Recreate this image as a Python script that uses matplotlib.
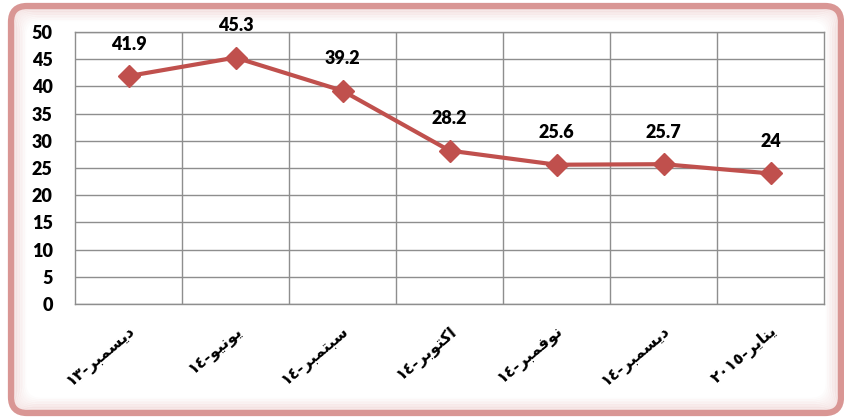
#!/usr/bin/env python3
"""Line chart with Arabic month labels inside a rounded pink frame."""

import matplotlib
matplotlib.use("Agg")
import matplotlib.pyplot as plt
from matplotlib.patches import FancyBboxPatch

# ── data ────────────────────────────────────────────────────────────────────
labels = ["ديسمبر-١٣", "يونيو-١٤", "سبتمبر-١٤", "اكتوبر-١٤",
          "نوفمبر-١٤", "ديسمبر-١٤", "يناير-٢٠١٥"]
values = [41.9, 45.3, 39.2, 28.2, 25.6, 25.7, 24]
value_text = ["41.9", "45.3", "39.2", "28.2", "25.6", "25.7", "24"]
y_ticks = [0, 5, 10, 15, 20, 25, 30, 35, 40, 45, 50]

# ── colours ─────────────────────────────────────────────────────────────────
C_LINE = "#c0504d"
C_GRID = "#8e8e8e"
C_FRAME = "#d99694"

# ── minimal Arabic shaping (matplotlib has no bidi / joining) ──────────────
# letter -> (isolated, final, initial, medial)
FORMS = {
    "ا": ("\ufe8d", "\ufe8e", "\ufe8d", "\ufe8e"),
    "ب": ("\ufe8f", "\ufe90", "\ufe91", "\ufe92"),
    "ت": ("\ufe95", "\ufe96", "\ufe97", "\ufe98"),
    "د": ("\ufea9", "\ufeaa", "\ufea9", "\ufeaa"),
    "ر": ("\ufead", "\ufeae", "\ufead", "\ufeae"),
    "س": ("\ufeb1", "\ufeb2", "\ufeb3", "\ufeb4"),
    "ف": ("\ufed1", "\ufed2", "\ufed3", "\ufed4"),
    "ك": ("\ufed9", "\ufeda", "\ufedb", "\ufedc"),
    "م": ("\ufee1", "\ufee2", "\ufee3", "\ufee4"),
    "ن": ("\ufee5", "\ufee6", "\ufee7", "\ufee8"),
    "و": ("\ufeed", "\ufeee", "\ufeed", "\ufeee"),
    "ي": ("\ufef1", "\ufef2", "\ufef3", "\ufef4"),
}
RIGHT_JOIN = set("ادذرزو")


def shape_word(word: str) -> str:
    out = []
    for i, ch in enumerate(word):
        prev_j = i > 0 and word[i - 1] in FORMS and word[i - 1] not in RIGHT_JOIN
        next_j = i < len(word) - 1 and word[i + 1] in FORMS and ch not in RIGHT_JOIN
        iso, fin, ini, med = FORMS[ch]
        out.append(med if prev_j and next_j else fin if prev_j else ini if next_j else iso)
    return "".join(reversed(out))


def visual(label: str) -> str:
    word, num = label.split("-")
    return num + "-" + shape_word(word)


# ── figure ──────────────────────────────────────────────────────────────────
W, H = 844, 418
fig = plt.figure(figsize=(W / 100, H / 100), dpi=100)
fig.patch.set_facecolor("white")

# background frame (pixel coordinates)
bg = fig.add_axes([0, 0, 1, 1], zorder=0)
bg.set_xlim(0, W)
bg.set_ylim(H, 0)
bg.axis("off")
for i in range(8):
    inset = 3 + i * 1.6
    bg.add_patch(FancyBboxPatch((11 + inset, 6 + inset), 830 - 2 * inset, 407 - 2 * inset,
                                boxstyle="round,pad=0,rounding_size=16",
                                fill=False, edgecolor=C_FRAME, linewidth=1.6,
                                alpha=0.22 * (1 - i / 8)))
bg.add_patch(FancyBboxPatch((11, 6), 830, 407, boxstyle="round,pad=0,rounding_size=16",
                            fill=False, edgecolor=C_FRAME, linewidth=4.5))

ax = fig.add_axes([75 / W, 1 - 304 / H, 749 / W, 272 / H], zorder=1)
ax.set_facecolor("none")

x = list(range(len(values)))
ax.plot(x, values, color=C_LINE, linewidth=3, marker="D", markersize=11,
        markerfacecolor=C_LINE, markeredgecolor=C_LINE, zorder=3)

for xi, v, t in zip(x, values, value_text):
    ax.annotate(t, (xi, v), xytext=(0, 23), textcoords="offset points",
                ha="center", va="center", fontsize=13, fontweight="heavy",
                family="Lato", color="black")

ax.set_xlim(-0.5, len(values) - 0.5)
ax.set_ylim(0, 50)
ax.set_yticks(y_ticks)
ax.set_yticklabels([str(t) for t in y_ticks], fontsize=13, fontweight="heavy", family="Lato")

# category boundaries as vertical grid lines
ax.set_xticks([i + 0.5 for i in x[:-1]], minor=True)
ax.set_xticks(x)
ax.set_xticklabels([visual(l) for l in labels], rotation=40, ha="right", va="top",
                   rotation_mode="anchor", fontsize=11.5, fontweight="bold",
                   family="DejaVu Sans")
ax.grid(True, axis="y", color=C_GRID, linewidth=1)
ax.grid(True, axis="x", which="minor", color=C_GRID, linewidth=1)
ax.set_axisbelow(True)
ax.tick_params(axis="both", which="both", length=0)
ax.tick_params(axis="y", pad=16)
ax.tick_params(axis="x", pad=14)
for sp in ax.spines.values():
    sp.set_color(C_GRID)
    sp.set_linewidth(1)

fig.savefig("out.png", dpi=100)
